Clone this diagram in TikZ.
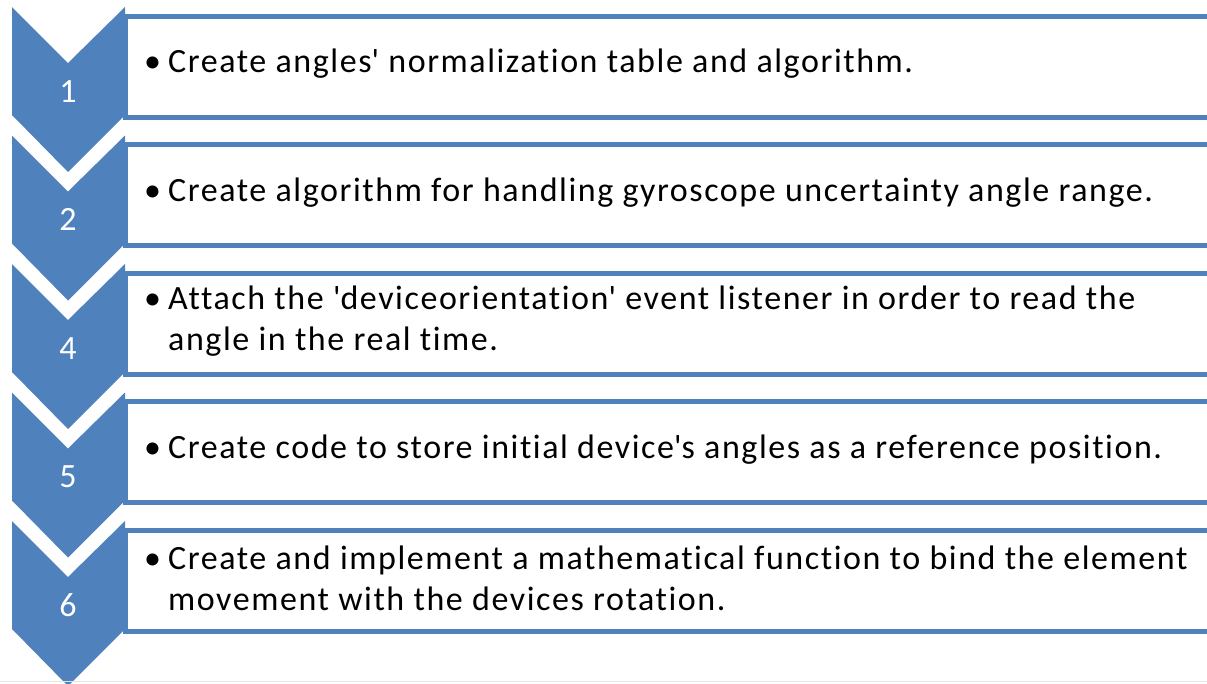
\documentclass[tikz,border=0pt]{standalone}
\usepackage{fontspec}
\setmainfont{Carlito}[Ligatures=CommonOff, LetterSpace=4.6]
\definecolor{chevblue}{HTML}{4F81BD}
\newcommand{\sq}{\textquotesingle}

\begin{document}
\begin{tikzpicture}[
    x=1pt, y=-1pt, % work in screen pixels, y pointing down
    chevron/.style={fill=chevblue, draw=none},
    stepbox/.style={draw=chevblue, line width=5pt, fill=white, anchor=north west,
        minimum width=1120pt, minimum height=101pt, inner sep=0pt},
    stepnum/.style={text=white, anchor=base, inner sep=0pt, font=\fontsize{34}{41}\selectfont},
    steptext/.style={anchor=west, inner sep=0pt, font=\fontsize{34}{41}\selectfont}
]
\useasboundingbox (0,0) rectangle (1207,683);

\def\gap{128.5} % vertical distance between steps

% Boxes with the step descriptions
\foreach \n/\k in {1/0, 2/1, 4/2, 5/3, 6/4} {
    \pgfmathsetmacro\t{13.5+\gap*\k}
    \node[stepbox] (box\n) at (123,\t) {};
}

% Chevrons on the left
\foreach \k in {0,...,4} {
    \pgfmathsetmacro\t{7+\gap*\k}
    \fill[chevron] (12,\t) -- (68,\t+56) -- (125,\t) -- (125,\t+108)
        -- (68,\t+165) -- (12,\t+108) -- cycle;
}

% Step numbers
\foreach \n/\k in {1/0, 2/1, 4/2, 5/3, 6/4} {
    \pgfmathsetmacro\t{102+\gap*\k}
    \node[stepnum] (num\n) at (68,\t) {\n};
}

% Step texts
\foreach \n/\k/\txt in {
    1/0/{Create angles\sq{} normalization table and algorithm.},
    2/1/{Create algorithm for handling gyroscope uncertainty angle range.},
    4/2/{Attach the \sq deviceorientation\sq{} event listener in order to read the angle in the real time.},
    5/3/{Create code to store initial device\sq s angles as a reference position.},
    6/4/{Create and implement a mathematical function to bind the element movement with the devices rotation.}} {
    \pgfmathsetmacro\t{64+\gap*\k}
    \node[steptext] (txt\n) at (144,\t)
        {\makebox[24pt][l]{\textbullet}\parbox[t]{1039pt}{\raggedright\txt}};
}

% Thin page edge at the bottom
\draw[gray!20, line width=1pt] (0,681.5) -- (1207,681.5);

\end{tikzpicture}
\end{document}
